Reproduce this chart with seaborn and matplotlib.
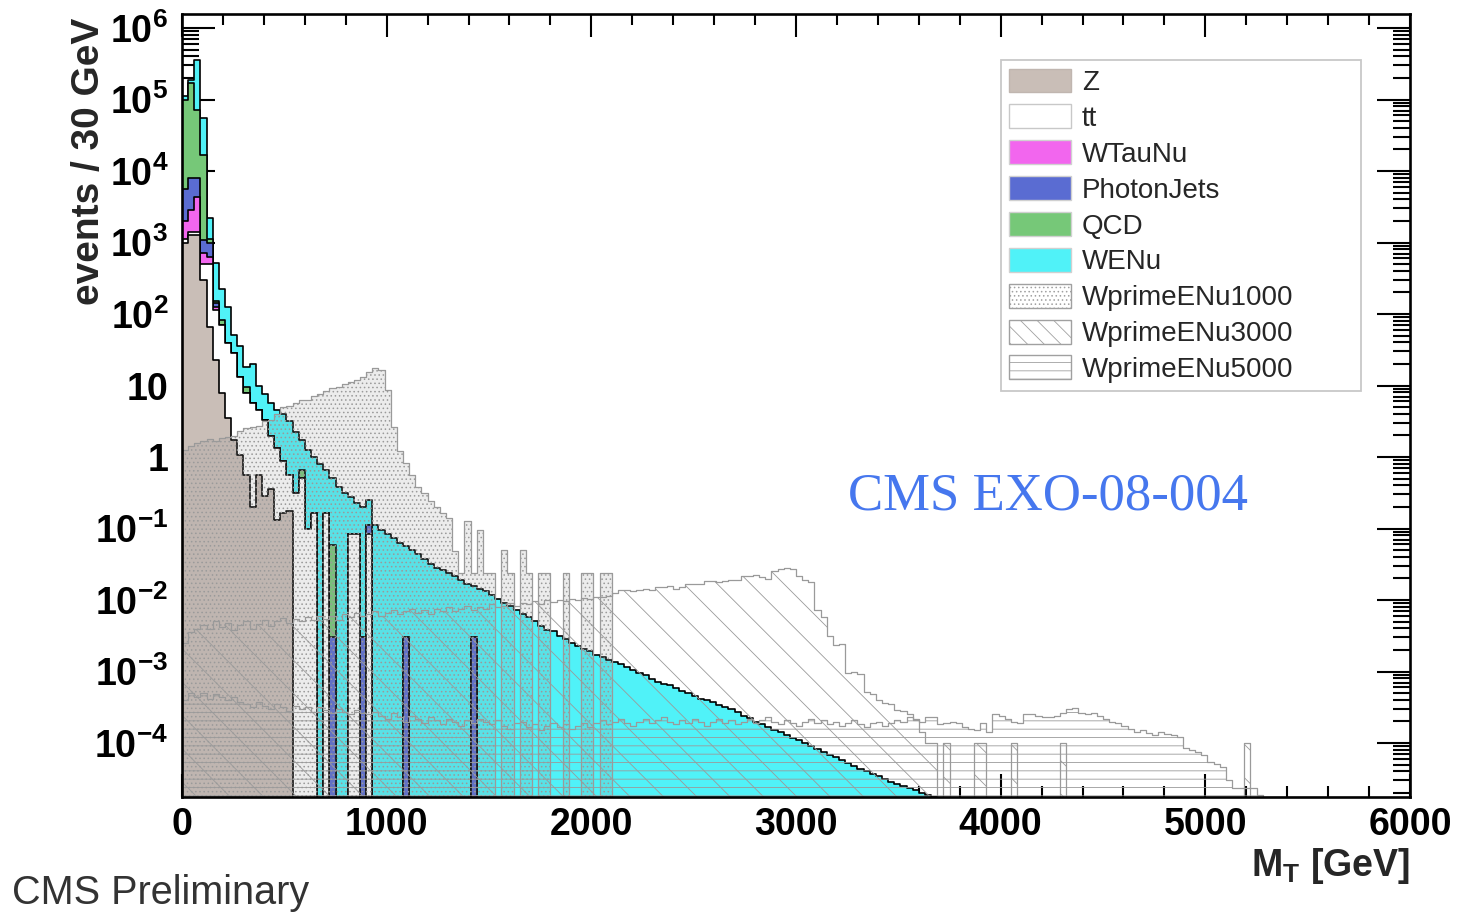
import numpy as np
import pandas as pd
import matplotlib
matplotlib.use("Agg")
import matplotlib.pyplot as plt
import seaborn as sns
from matplotlib.patches import Patch
from matplotlib.ticker import (FixedLocator, FixedFormatter, MultipleLocator,
                               LogLocator, NullFormatter)

# ---------------------------------------------------------------- binning
BIN_WIDTH = 30
MT_RANGE = (0, 6000)
NB = (MT_RANGE[1] - MT_RANGE[0]) // BIN_WIDTH
centers = MT_RANGE[0] + BIN_WIDTH * (np.arange(NB) + 0.5)

# ---------------------------------------------------------------- data
# All values are log10(events / 30 GeV).
# Stacked backgrounds: visible top of each cumulative layer.
z_top = [3.0, 3.1, 3.1, 2.48, 1.82, 1.36, 0.9, 0.55, 0.24, 0.03,
         -0.25, -0.7, -0.25, -0.55, -0.45, -0.88, -0.78, -0.75]

# keys = lower bin edge in GeV
tt_top = {0: 3.05, 30: 3.15, 60: 3.15, 90: 2.7, 120: 2.7, 150: 2.06, 180: 1.85,
          210: 1.6, 240: 1.45, 270: 1.12, 300: 0.9, 330: 0.75, 360: 0.66,
          390: 0.52, 420: 0.3, 450: 0.12, 480: -0.05, 510: -0.25, 540: -0.5,
          570: -0.3, 600: -1.0, 630: -0.78, 690: -0.78, 810: -1.08, 840: -1.08,
          900: -1.07}
wtaunu_top = {0: 3.3, 30: 3.45, 60: 3.63, 90: 2.85, 120: 2.8, 150: 2.1}
photonjets_top = {0: 3.75, 30: 3.9, 60: 3.9, 90: 3.03, 120: 3.0, 150: 2.15,
                  720: -2.52, 870: -2.52, 900: -0.95, 1080: -2.52, 1410: -2.52}
qcd_top = {0: 5.0, 30: 5.23, 60: 4.85, 90: 4.22, 120: 3.05, 150: 2.18,
           180: 1.92, 300: 0.98, 570: -0.18, 720: -1.23}

wenu_top = [5.05, 5.27, 5.55, 4.74, 3.34, 2.71, 2.35, 2.1, 1.7, 1.55,
            1.26, 1.3, 1.0, 0.88, 0.75, 0.66, 0.6, 0.5, 0.35, 0.24,
            0.1, 0.0, -0.1, -0.18, -0.3, -0.42, -0.5, -0.56, -0.65, -0.7,
            -0.6, -0.95, -1.02, -1.08, -1.13, -1.2, -1.25, -1.3, -1.36, -1.42,
            -1.5, -1.55, -1.58, -1.62, -1.66, -1.72, -1.77, -1.8, -1.85, -1.88,
            -1.93, -1.98, -2.04, -2.08, -2.14, -2.2, -2.24, -2.3, -2.36, -2.42,
            -2.44, -2.5, -2.55, -2.6, -2.64, -2.68, -2.72, -2.77, -2.8, -2.84,
            -2.87, -2.9, -2.94, -2.98, -3.02, -3.05, -3.1, -3.14, -3.17, -3.19,
            -3.23, -3.27, -3.3, -3.34, -3.38, -3.4, -3.43, -3.47, -3.5, -3.53,
            -3.57, -3.62, -3.65, -3.7, -3.74, -3.77, -3.82, -3.85, -3.89, -3.93,
            -3.96, -4.0, -4.04, -4.08, -4.12, -4.17, -4.2, -4.24, -4.28, -4.32,
            -4.36, -4.39, -4.43, -4.46, -4.5, -4.54, -4.57, -4.6, -4.63, -4.66,
            -4.7, -4.73, -4.76]

# Signals (overlaid, not stacked)
wprime1000 = [0.1, 0.15, 0.2, 0.22, 0.25, 0.22, 0.26, 0.28, 0.3, 0.36,
              0.4, 0.42, 0.43, 0.5, 0.52, 0.6, 0.7, 0.72, 0.75, 0.8,
              0.8, 0.85, 0.88, 0.92, 0.97, 0.98, 1.02, 1.05, 1.08, 1.12,
              1.19, 1.24, 1.22, 0.94, 0.42, 0.08, -0.08, -0.25, -0.42, -0.5,
              -0.62, -0.7, -0.78, -0.85, -1.32, -1.62, -0.9, -1.62, -1.02, -1.62,
              -1.62, None, -1.3, -1.62, None, -1.3, -1.62, None, -1.62, -1.62,
              None, None, -1.62, None, None, -1.62, -1.62, None, -1.62, -1.62]

wprime3000 = [-2.6, -2.45, -2.4, -2.35, -2.4, -2.3, -2.38, -2.32, -2.42, -2.35,
              -2.3, -2.4, -2.33, -2.28, -2.36, -2.3, -2.25, -2.32, -2.27, -2.3,
              -2.24, -2.28, -2.22, -2.26, -2.22, -2.28, -2.2, -2.24, -2.18, -2.22,
              -2.2, -2.16, -2.22, -2.18, -2.14, -2.2, -2.16, -2.12, -2.18, -2.14,
              -2.2, -2.12, -2.15, -2.1, -2.16, -2.12, -2.08, -2.14, -2.1, -2.12,
              -2.06, -2.1, -2.08, -2.04, -2.08, -2.04, -2.06, -2.02, -2.05, -2.0,
              -2.03, -2.0, -2.02, -1.98, -2.0, -1.97, -1.98, -1.96, -1.96, -1.95,
              -1.9, -1.86, -1.86, -1.88, -1.86, -1.84, -1.86, -1.82, -1.82, -1.8,
              -1.84, -1.82, -1.77, -1.78, -1.77, -1.74, -1.74, -1.75, -1.73, -1.72,
              -1.72, -1.66, -1.67, -1.65, -1.68, -1.7, -1.6, -1.56, -1.55, -1.57,
              -1.66, -1.72, -1.75, -2.14, -2.24, -2.5, -2.63, -2.62, -3.02, -3.0,
              -3.04, -3.28, -3.32, -3.4, -3.44, -3.45, -3.54, -3.55, -3.6, -3.68,
              -3.85, -4.0, -4.0]
wprime3000_single = {3720: -4.0, 3870: -4.0, 3900: -4.0, 4050: -4.0,
                     4290: -4.0, 5190: -4.0}

wprime5000 = [-3.4, -3.3, -3.35, -3.3, -3.38, -3.32, -3.36, -3.4, -3.35, -3.42,
              -3.45, -3.5, -3.42, -3.48, -3.52, -3.46, -3.5, -3.55, -3.48, -3.52,
              -3.5, -3.56, -3.5, -3.54, -3.58, -3.52, -3.56, -3.6, -3.54, -3.58,
              -3.6, -3.56, -3.62, -3.66, -3.58, -3.64, -3.7, -3.62, -3.66, -3.72,
              -3.64, -3.68, -3.74, -3.66, -3.7, -3.76, -3.68, -3.72, -3.66, -3.7,
              -3.74, -3.68, -3.76, -3.8, -3.72, -3.7, -3.78, -3.74, -3.82, -3.76,
              -3.72, -3.78, -3.74, -3.8, -3.76, -3.72, -3.78,
              -3.72, -3.68, -3.74, -3.7, -3.66, -3.72, -3.76, -3.7, -3.66, -3.72,
              -3.68, -3.64, -3.7, -3.74, -3.68, -3.72, -3.66, -3.7, -3.76, -3.7,
              -3.66, -3.72, -3.68, -3.74, -3.7, -3.66, -3.72, -3.68, -3.64, -3.7,
              -3.74, -3.68, -3.72, -3.76, -3.7, -3.66, -3.72, -3.68, -3.74, -3.7,
              -3.76, -3.72, -3.68, -3.74, -3.78, -3.72, -3.7, -3.76, -3.72, -3.68,
              -3.7, -3.63, -3.66, -3.7, -3.63, -3.63, -3.74, -3.72, -3.7, -3.72,
              -3.77, -3.8, -3.82, -3.72, -3.84, -3.6, -3.62, -3.66, -3.7, -3.72,
              -3.59, -3.59, -3.62, -3.63, -3.63, -3.62, -3.58, -3.53, -3.51, -3.58,
              -3.6, -3.58, -3.62, -3.66, -3.7, -3.72, -3.76, -3.8, -3.84, -3.82,
              -3.86, -3.89, -3.84, -3.88, -3.89, -3.91, -4.07, -4.1, -4.12, -4.17,
              -4.26, -4.3, -4.33, -4.52, -4.63, -4.63, -4.63, -4.63, -4.73]

legend_names = ["Z", "tt", "WTauNu", "PhotonJets", "QCD", "WENu",
                "WprimeENu1000", "WprimeENu3000", "WprimeENu5000"]
ytick_values = [1e-4, 1e-3, 1e-2, 1e-1, 1, 10, 1e2, 1e3, 1e4, 1e5, 1e6]
ytick_labels = ["10$^{-4}$", "10$^{-3}$", "10$^{-2}$", "10$^{-1}$", "1", "10",
                "10$^{2}$", "10$^{3}$", "10$^{4}$", "10$^{5}$", "10$^{6}$"]


# ---------------------------------------------------------------- helpers
def levels_from_list(lst):
    arr = np.full(NB, -np.inf)
    for i, v in enumerate(lst):
        if v is not None:
            arr[i] = v
    return arr


def levels_from_dict(d):
    arr = np.full(NB, -np.inf)
    for mt, v in d.items():
        arr[int(mt // BIN_WIDTH)] = v
    return arr


def frame(lv):
    return pd.DataFrame({"mt": centers, "w": np.power(10.0, lv)})


z_lv = levels_from_list(z_top)
tt_lv = np.maximum(z_lv, levels_from_dict(tt_top))
wt_lv = np.maximum(tt_lv, levels_from_dict(wtaunu_top))
pj_lv = np.maximum(wt_lv, levels_from_dict(photonjets_top))
qcd_lv = np.maximum(pj_lv, levels_from_dict(qcd_top))
tot_lv = np.maximum(qcd_lv, levels_from_list(wenu_top))

w1000_lv = levels_from_list(wprime1000)
w3000_lv = np.maximum(levels_from_list(wprime3000), levels_from_dict(wprime3000_single))
w5000_lv = levels_from_list(wprime5000)

# ---------------------------------------------------------------- style
sns.set_style("ticks")
plt.rcParams["font.family"] = ["Liberation Sans", "DejaVu Sans"]
plt.rcParams["font.weight"] = "bold"
plt.rcParams["mathtext.default"] = "regular"
plt.rcParams["hatch.linewidth"] = 0.6
plt.rcParams["hatch.color"] = "#8a8a8a"

C_Z = "#c9beb7"
C_TT = "#ffffff"
C_WTAU = "#f266ee"
C_PJ = "#5a6cd2"
C_QCD = "#76c878"
C_WENU = "#50f2f8"
C_SIG = "#9a9a9a"

fig = plt.figure(figsize=(14.72, 9.14), dpi=100)
ax = fig.add_axes([182 / 1472, 117 / 914, 1228 / 1472, 783 / 914])
ax.set_yscale("log")

stack_layers = [(tot_lv, C_WENU), (qcd_lv, C_QCD), (pj_lv, C_PJ),
                (wt_lv, C_WTAU), (tt_lv, C_TT), (z_lv, C_Z)]
for lv, col in stack_layers:
    sns.histplot(data=frame(lv), x="mt", weights="w", bins=NB, binrange=MT_RANGE,
                 element="step", fill=True, color=col, facecolor=col,
                 edgecolor="black", linewidth=1.2, ax=ax)

signal_layers = [(w1000_lv, "....", (0.55, 0.55, 0.55, 0.16)),
                 (w3000_lv, "\\", (1.0, 1.0, 1.0, 0.0)),
                 (w5000_lv, "--", (1.0, 1.0, 1.0, 0.0))]
for lv, hatch, fc in signal_layers:
    sns.histplot(data=frame(lv), x="mt", weights="w", bins=NB, binrange=MT_RANGE,
                 element="step", fill=True, color=C_SIG, facecolor=fc,
                 edgecolor=C_SIG, hatch=hatch, linewidth=0.9, ax=ax)

# ---------------------------------------------------------------- axes
ax.set_xlim(0, 6000)
ax.set_ylim(10 ** -4.755, 10 ** 6.196)
ax.set_xlabel("")
ax.set_ylabel("")
ax.xaxis.set_major_locator(MultipleLocator(1000))
ax.xaxis.set_minor_locator(MultipleLocator(200))
ax.yaxis.set_major_locator(FixedLocator(ytick_values))
ax.yaxis.set_major_formatter(FixedFormatter(ytick_labels))
ax.yaxis.set_minor_locator(LogLocator(base=10, subs=np.arange(2, 10), numticks=40))
ax.yaxis.set_minor_formatter(NullFormatter())
ax.tick_params(axis="both", which="both", direction="in", top=True, right=True,
               width=1.5, colors="black", labelsize=27)
ax.tick_params(axis="x", which="major", length=16.5, pad=7)
ax.tick_params(axis="x", which="minor", length=8)
ax.tick_params(axis="y", which="major", length=24, pad=10)
ax.tick_params(axis="y", which="minor", length=12)
for sp in ax.spines.values():
    sp.set_linewidth(1.9)
    sp.set_color("black")
    sp.set_zorder(5)

# ---------------------------------------------------------------- legend
handles = [
    Patch(facecolor=C_Z, edgecolor="#c0b6b0", label=legend_names[0]),
    Patch(facecolor=C_TT, edgecolor="#c8c8c8", label=legend_names[1]),
    Patch(facecolor=C_WTAU, edgecolor="#d0d0d0", label=legend_names[2]),
    Patch(facecolor=C_PJ, edgecolor="#d0d0d0", label=legend_names[3]),
    Patch(facecolor=C_QCD, edgecolor="#d0d0d0", label=legend_names[4]),
    Patch(facecolor=C_WENU, edgecolor="#d0d0d0", label=legend_names[5]),
    Patch(facecolor="white", edgecolor="#a0a0a0", hatch="....", label=legend_names[6]),
    Patch(facecolor="white", edgecolor="#a0a0a0", hatch="\\\\", label=legend_names[7]),
    Patch(facecolor="white", edgecolor="#a0a0a0", hatch="--", label=legend_names[8]),
]
leg = ax.legend(handles=handles, loc="upper left",
                bbox_to_anchor=(0.667, 0.0, 0.293, 0.941), mode="expand",
                frameon=True, fancybox=False, edgecolor="#c8c8c8",
                prop={"family": "Liberation Sans", "weight": "normal", "size": 20},
                handlelength=2.2, handleheight=0.95, handletextpad=0.4,
                labelspacing=0.3, borderpad=0.3, borderaxespad=0)
leg.get_frame().set_linewidth(1.3)
leg.get_frame().set_facecolor("white")
leg.get_frame().set_alpha(1)

# ---------------------------------------------------------------- texts
fig.text(89 / 1472, 1 - 18 / 914, "events / 30 GeV", rotation=90,
         ha="center", va="top", fontsize=28, fontweight="bold")
fig.text(1410 / 1472, 1 - 866 / 914, "M$_{T}$ [GeV]", ha="right", va="center",
         fontsize=27, fontweight="bold")
fig.text(848 / 1472, 1 - 497 / 914, "CMS EXO-08-004", ha="left", va="center",
         fontsize=38, fontweight="normal", family="Liberation Serif",
         color="#4677ee")
fig.text(12 / 1472, 1 - 893 / 914, "CMS Preliminary", ha="left", va="center",
         fontsize=28.5, fontweight="normal", color="#333333")

fig.savefig("out.png", dpi=100)
